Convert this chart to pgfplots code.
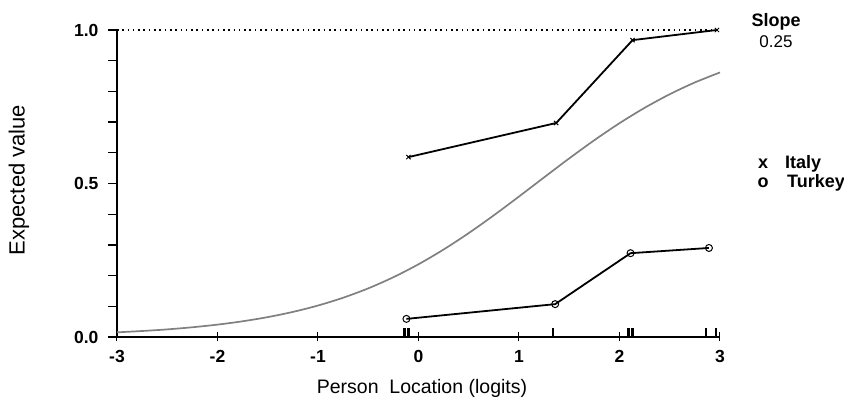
\documentclass[border=0pt]{standalone}
\usepackage{fontspec}
\setmainfont{Liberation Sans}
\usepackage{pgfplots}
\pgfplotsset{compat=1.18}
\definecolor{curvegray}{RGB}{128,128,128}
\begin{document}
\begin{tikzpicture}
\useasboundingbox (-117pt,-61pt) rectangle (727pt,337pt);
\begin{axis}[
  scale only axis, width=603pt, height=307pt,
  at={(0pt,0pt)}, anchor=south west,
  xmin=-3, xmax=3, ymin=0, ymax=1,
  axis x line*=bottom, axis y line*=left,
  axis line style={line width=2pt},
  xtick={-3,-2,-1,0,1,2,3},
  xticklabels={-3,-2,-1,0,1,2,3},
  ytick={0,0.5,1},
  yticklabels={0.0,0.5,1.0},
  minor ytick={0.1,0.2,0.3,0.4,0.6,0.7,0.8,0.9},
  xtick align=center, ytick align=outside,
  major tick length=9pt, minor tick length=9pt,
  every tick/.style={black, line width=1.3pt},
  minor tick style={black, line width=1.3pt},
  xtick style={line width=1pt},
  tick label style={font=\bfseries\fontsize{17.5}{17.5}\selectfont},
  xticklabel style={yshift=-5pt},
  yticklabel style={xshift=-6pt},
  clip=false,
]
\addplot[black, line width=1.2pt, dash pattern=on 1.6pt off 3.7pt] coordinates {(-3,1) (3,1)};
\addplot[curvegray, line width=1.7pt, smooth] coordinates {
(-3,0.0152) (-2.75,0.0195) (-2.5,0.0248) (-2.25,0.0317) (-2,0.0403)
(-1.75,0.0512) (-1.5,0.0648) (-1.25,0.0817) (-1,0.1025) (-0.75,0.1279)
(-0.5,0.1584) (-0.25,0.1947) (0,0.2369) (0.25,0.2850) (0.5,0.3385)
(0.75,0.3965) (1,0.4576) (1.25,0.5200) (1.5,0.5818) (1.75,0.6411)
(2,0.6964) (2.25,0.7465) (2.5,0.7908) (2.75,0.8292) (3,0.8618)};
\addplot[black, line width=1.8pt, mark=x, mark size=3pt, mark options={line width=1pt}] coordinates {
(-0.10,0.586) (1.37,0.697) (2.13,0.967) (2.97,1.0)};
\addplot[black, line width=1.8pt, mark=o, mark size=3.5pt, mark options={fill=white, line width=1pt}] coordinates {
(-0.12,0.059) (1.36,0.107) (2.11,0.273) (2.89,0.290)};
\addplot[ycomb, black, line width=2.2pt, no marks] coordinates {
(-0.14,0.03) (-0.10,0.03) (1.34,0.03) (2.09,0.03) (2.13,0.03) (2.86,0.03) (2.96,0.03)};
\end{axis}
\node[font=\bfseries\fontsize{18}{18}\selectfont] at (659pt,315pt) {Slope};
\node[font=\fontsize{17}{17}\selectfont] at (659pt,295pt) {0.25};
\node[font=\bfseries\fontsize{18}{18}\selectfont, anchor=base, inner sep=0pt] at (646pt,168pt) {x};
\node[font=\bfseries\fontsize{18}{18}\selectfont, anchor=base west, inner sep=0pt] at (668pt,168pt) {Italy};
\node[font=\bfseries\fontsize{18}{18}\selectfont, anchor=base, inner sep=0pt] at (646pt,149pt) {o};
\node[font=\bfseries\fontsize{18}{18}\selectfont, anchor=base west, inner sep=0pt] at (670pt,149pt) {Turkey};
\node[font=\fontsize{22}{22}\selectfont, rotate=90] at (-98pt,157pt) {Expected value};
\node[font=\fontsize{19.5}{19.5}\selectfont] at (305pt,-51pt) {Person\ \ Location (logits)};
\end{tikzpicture}
\end{document}
